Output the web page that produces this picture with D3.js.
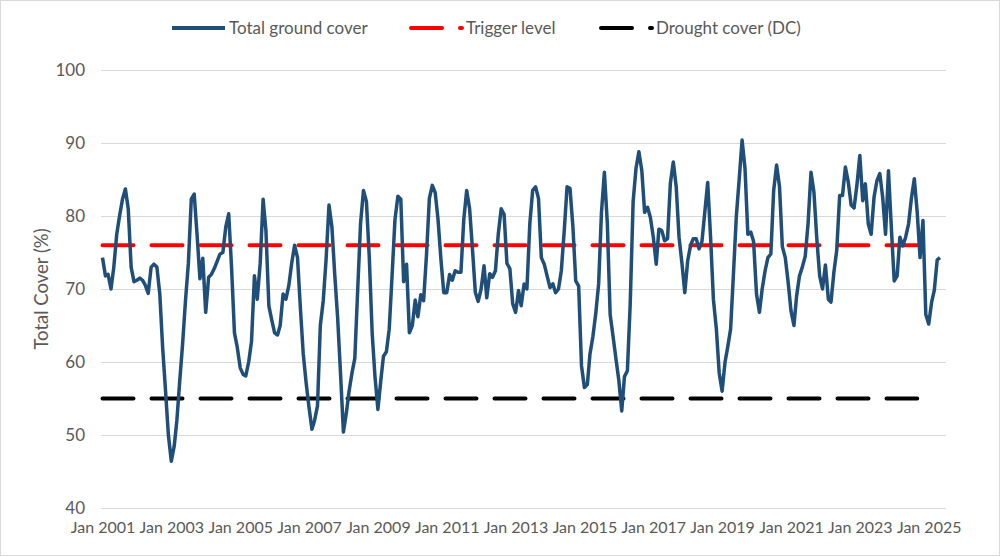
<!DOCTYPE html>
<html>
<head>
<meta charset="utf-8">
<script src="https://cdn.jsdelivr.net/npm/d3@7/dist/d3.min.js"></script>
<style>
    body { margin: 0; background: #fff; }
    .chart text { font-family: Lato, "Open Sans", sans-serif; fill: #595959; }
</style>
</head>
<body>
<div class="chart"></div>
<script>

// monthly values, first one is Jan 2001
var startMonth = new Date(2001, 0, 1);

var totalCover = [
    74.3, 71.8, 72.0, 70.0, 73.0, 77.5, 80.0, 82.3, 83.7, 81.0, 73.0, 71.0,
    71.2, 71.5, 71.2, 70.5, 69.4, 73.0, 73.4, 73.0, 69.3, 62.0, 56.0, 50.0,
    46.4, 48.5, 52.0, 57.5, 62.5, 68.5, 73.5, 82.3, 83.0, 77.5, 71.4, 74.2,
    66.8, 71.6, 72.0, 72.8, 73.8, 74.8, 75.0, 78.5, 80.3, 73.0, 64.0, 62.0,
    59.2, 58.3, 58.1, 60.0, 62.8, 71.8, 68.6, 73.5, 82.3, 78.0, 67.7, 65.8,
    64.0, 63.7, 65.0, 69.3, 68.6, 70.5, 73.5, 76.0, 74.3, 67.5, 61.1, 57.2,
    53.8, 50.8, 52.0, 54.0, 65.0, 68.4, 74.0, 81.5, 78.5, 72.0, 66.0, 58.5,
    50.4, 53.0, 56.0, 58.5, 60.5, 70.0, 79.0, 83.5, 82.0, 74.5, 64.0, 58.0,
    53.5, 57.5, 60.8, 61.4, 64.5, 72.0, 79.5, 82.7, 82.3, 71.0, 73.4, 64.0,
    65.0, 68.5, 66.2, 69.2, 68.4, 74.8, 82.4, 84.2, 83.2, 79.5, 74.0, 69.5,
    69.5, 72.0, 71.2, 72.5, 72.3, 72.3, 79.5, 83.5, 81.0, 75.5, 69.5, 68.3,
    70.0, 73.2, 68.8, 72.1, 71.6, 72.5, 77.5, 81.0, 80.2, 73.5, 72.8, 68.0,
    66.8, 69.8, 67.7, 70.7, 70.0, 79.0, 83.5, 84.0, 82.4, 74.3, 73.4, 71.8,
    70.2, 70.7, 69.5, 70.0, 72.5, 78.0, 84.0, 83.8, 78.5, 71.1, 70.4, 59.5,
    56.5, 56.9, 61.1, 63.5, 66.6, 70.7, 80.5, 86.0, 79.0, 66.5, 63.5, 60.5,
    57.5, 53.3, 58.0, 58.8, 68.0, 82.0, 86.5, 88.8, 86.2, 80.5, 81.2, 79.8,
    77.1, 73.4, 78.2, 78.0, 76.6, 76.9, 84.5, 87.4, 84.0, 77.1, 73.5, 69.5,
    73.9, 76.0, 76.9, 76.9, 75.5, 76.5, 80.5, 84.6, 77.0, 68.5, 64.5, 58.5,
    56.0, 60.0, 62.0, 64.5, 72.0, 80.0, 85.0, 90.4, 86.5, 77.5, 77.8, 76.5,
    69.3, 66.8, 70.0, 72.5, 74.3, 74.8, 83.5, 87.0, 84.0, 75.8, 74.3, 71.0,
    67.0, 65.0, 69.0, 71.8, 73.0, 74.5, 79.0, 86.0, 83.3, 77.0, 71.8, 70.0,
    73.3, 68.6, 68.2, 72.3, 75.3, 82.8, 82.8, 86.7, 84.6, 81.5, 81.1, 84.2,
    88.3, 82.1, 84.4, 78.9, 77.5, 82.6, 84.8, 85.8, 82.5, 77.5, 86.2, 78.5,
    71.1, 71.8, 77.1, 75.9, 77.1, 78.9, 82.4, 85.1, 80.5, 74.3, 79.4, 66.5,
    65.2, 68.2, 69.8, 74.0, 74.3
];

// reference levels, drawn from Jan 2001 to Sep 2024
var triggerLevel = 76;
var droughtCover = 55;
var levelEnd = new Date(2024, 8, 1);

var yTicks = [40, 50, 60, 70, 80, 90, 100];
var xTickYears = [2001, 2003, 2005, 2007, 2009, 2011, 2013, 2015, 2017, 2019, 2021, 2023, 2025];

var seriesNames = ["Total ground cover", "Trigger level", "Drought cover (DC)"];
var seriesColors = ["#1f4e79", "#ff0000", "#000000"];

var svgWidth = 1000;
var svgHeight = 556;

var svg = d3.select(".chart").append("svg")
    .attr("width", svgWidth)
    .attr("height", svgHeight);

// outer border of the chart area
svg.append("rect")
    .attr("x", 0.5)
    .attr("y", 0.5)
    .attr("width", svgWidth - 1)
    .attr("height", svgHeight - 1)
    .attr("fill", "#fff")
    .attr("stroke", "#d9d9d9");

var data = totalCover.map((v, i) => ({date: d3.timeMonth.offset(startMonth, i), value: v}));

var xScale = d3.scaleTime()
    .domain([startMonth, new Date(2025, 6, 14)])
    .range([102.5, 947]);

var yScale = d3.scaleLinear()
    .domain([40, 100])
    .range([508, 70]);

// gridlines + y labels
var yAxis = svg.append("g")
    .attr("transform", "translate(101,0)")
    .call(d3.axisLeft(yScale)
        .tickValues(yTicks)
        .tickSize(-(946 - 101))
        .tickPadding(16));

yAxis.select(".domain").remove();
yAxis.selectAll("line").attr("stroke", "#d9d9d9");
yAxis.selectAll("text")
    .attr("font-size", "17px")
    .attr("fill", "#595959");

// x labels
var xAxis = svg.append("g")
    .attr("transform", "translate(0,508)")
    .call(d3.axisBottom(xScale)
        .tickValues(xTickYears.map(y => new Date(y, 0, 1)))
        .tickFormat(d3.timeFormat("%b %Y"))
        .tickSize(0)
        .tickPadding(14));

xAxis.select(".domain").remove();
xAxis.selectAll("text")
    .attr("font-size", "16px")
    .attr("fill", "#595959");

// y axis title
svg.append("text")
    .attr("transform", "translate(48,289) rotate(-90)")
    .attr("text-anchor", "middle")
    .attr("font-size", "18.5px")
    .text("Total Cover (%)");

// reference lines
var levelLine = d3.line()
    .x(d => xScale(d))
    .y(0);

[[triggerLevel, seriesColors[1]], [droughtCover, seriesColors[2]]].forEach(function(lv) {
    svg.append("path")
        .attr("d", levelLine([startMonth, levelEnd]))
        .attr("transform", "translate(0," + yScale(lv[0]) + ")")
        .attr("fill", "none")
        .attr("stroke", lv[1])
        .attr("stroke-width", 4)
        .attr("stroke-dasharray", "31,18")
        .attr("stroke-linecap", "round");
});

// main series
var line = d3.line()
    .x(d => xScale(d.date))
    .y(d => yScale(d.value));

svg.append("path")
    .datum(data)
    .attr("d", line)
    .attr("fill", "none")
    .attr("stroke", seriesColors[0])
    .attr("stroke-width", 3.5)
    .attr("stroke-linejoin", "round");

// legend
var legendX = [172, 409, 599];
var legend = svg.append("g").attr("transform", "translate(0,28)");

seriesNames.forEach(function(name, i) {
    var g = legend.append("g").attr("transform", "translate(" + legendX[i] + ",0)");
    if (i == 0) {
        g.append("line")
            .attr("x1", 0).attr("x2", 53)
            .attr("stroke", seriesColors[i])
            .attr("stroke-width", 4);
    } else {
        g.append("line")
            .attr("x1", 2).attr("x2", 53)
            .attr("stroke", seriesColors[i])
            .attr("stroke-width", 4)
            .attr("stroke-dasharray", "31,18")
            .attr("stroke-linecap", "round");
    }
    g.append("text")
        .attr("x", 57)
        .attr("dy", "0.35em")
        .attr("font-size", "17px")
        .text(name);
});

</script>
</body>
</html>
